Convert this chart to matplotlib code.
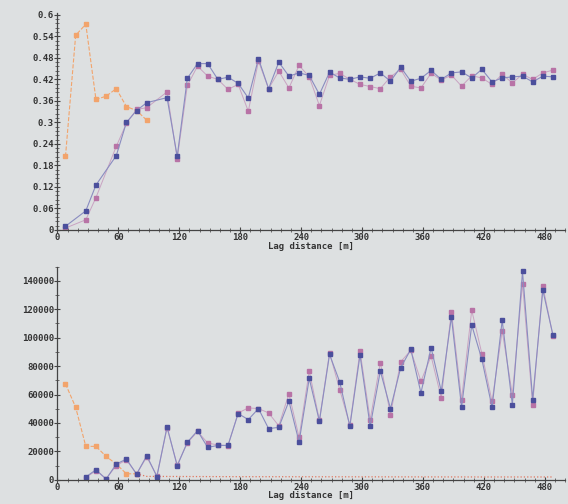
# variograms vs lag distance (two panels)

import matplotlib
matplotlib.use('Agg')
import matplotlib.pyplot as plt
from matplotlib.ticker import MultipleLocator

# top panel
top_lag = [8, 28, 38, 58, 68, 78, 88, 108, 118, 128, 138, 148, 158, 168, 178, 188,
           198, 208, 218, 228, 238, 248, 258, 268, 278, 288, 298, 308, 318, 328, 338,
           348, 358, 368, 378, 388, 398, 408, 418, 428, 438, 448, 458, 468, 478, 488]
top_blue = [0.01, 0.053, 0.125, 0.207, 0.300, 0.333, 0.355, 0.369, 0.205, 0.423, 0.464,
            0.464, 0.420, 0.426, 0.409, 0.368, 0.478, 0.394, 0.468, 0.429, 0.438, 0.431,
            0.378, 0.440, 0.424, 0.420, 0.427, 0.423, 0.438, 0.415, 0.454, 0.415, 0.423,
            0.445, 0.420, 0.438, 0.441, 0.424, 0.448, 0.413, 0.424, 0.427, 0.429, 0.413,
            0.429, 0.427]
top_pink = [0.005, 0.028, 0.090, 0.233, 0.297, 0.336, 0.341, 0.385, 0.198, 0.403, 0.457,
            0.429, 0.420, 0.392, 0.406, 0.331, 0.471, 0.394, 0.443, 0.396, 0.459, 0.427,
            0.347, 0.431, 0.437, 0.420, 0.406, 0.400, 0.394, 0.427, 0.448, 0.401, 0.396,
            0.437, 0.418, 0.432, 0.401, 0.430, 0.424, 0.406, 0.434, 0.410, 0.434, 0.420,
            0.438, 0.446]
top_orange_lag = [8, 18, 28, 38, 48, 58, 68, 78, 88]
top_orange = [0.205, 0.543, 0.574, 0.364, 0.373, 0.394, 0.344, 0.333, 0.306]

# bottom panel
bot_lag = [28, 38, 48, 58, 68, 78, 88, 98, 108, 118, 128, 138, 148, 158, 168, 178, 188,
           198, 208, 218, 228, 238, 248, 258, 268, 278, 288, 298, 308, 318, 328, 338,
           348, 358, 368, 378, 388, 398, 408, 418, 428, 438, 448, 458, 468, 478, 488]
bot_blue = [2000, 7070, 500, 11100, 14600, 4000, 17000, 2300, 37300, 9800, 26500, 34500,
            22800, 24200, 24200, 46600, 42350, 50100, 36000, 36900, 55300, 26600, 71300,
            41200, 88200, 68900, 37650, 87800, 37650, 76500, 50100, 78800, 91800, 61200,
            92900, 62350, 114600, 51060, 108900, 84700, 51060, 112200, 52900, 146600,
            56500, 133400, 101900]
bot_pink = [1500, 6500, 800, 10000, 14000, 4200, 16000, 2800, 36500, 10500, 26000, 34000,
            25900, 24500, 24000, 47000, 50600, 50100, 47060, 38000, 60500, 29900, 76500,
            42000, 89400, 63500, 38500, 90600, 42350, 82350, 45900, 83000, 91000, 69400,
            87000, 57650, 118400, 56500, 119300, 88700, 55300, 104700, 60000, 138100,
            52900, 136500, 101000]
bot_orange_lag = [8, 18, 28, 38, 48, 58, 68, 78]
bot_orange = [67500, 51060, 23530, 23530, 16470, 11060, 4235, 4235]
# orange trace continues just above the axis
tail_lag = [78, 88, 180, 300, 420, 488]
tail_val = [4235, 2400, 2200, 2100, 2000, 2000]

bg = '#dde0e1'
blue = '#4b4f9c'
pink = '#b873a6'
orange = '#f2a46c'
font = dict(family='DejaVu Sans Mono', fontweight='bold', fontsize=6.5, color='#333333')

fig = plt.figure(figsize=(5.68, 5.04), dpi=100, facecolor=bg)
ax1 = fig.add_axes([0.101, 0.544, 0.894, 0.43], facecolor=bg)
ax2 = fig.add_axes([0.101, 0.048, 0.894, 0.423], facecolor=bg)

ax1.plot(top_orange_lag, top_orange, '--', color=orange, lw=0.8, marker='s', ms=3,
         mfc=orange, mec=orange)
ax1.plot(top_lag, top_pink, '-', color='#c9a3c2', lw=0.7, marker='s', ms=2.8,
         mfc=pink, mec=pink)
ax1.plot(top_lag, top_blue, '-', color='#8a8cc0', lw=0.8, marker='s', ms=3,
         mfc=blue, mec=blue)

ax2.plot(tail_lag, tail_val, ':', color='#e07860', lw=0.9)
ax2.plot(bot_orange_lag, bot_orange, '--', color=orange, lw=0.8, marker='s', ms=3,
         mfc=orange, mec=orange)
ax2.plot(bot_lag, bot_pink, '-', color='#c9a3c2', lw=0.7, marker='s', ms=2.8,
         mfc=pink, mec=pink)
ax2.plot(bot_lag, bot_blue, '-', color='#8a8cc0', lw=0.8, marker='s', ms=3,
         mfc=blue, mec=blue)

ax1.set_ylim(0, 0.605)
ax1.yaxis.set_major_locator(MultipleLocator(0.06))
ax1.yaxis.set_minor_locator(MultipleLocator(0.012))
ax1.set_yticklabels([('%g' % v) for v in ax1.get_yticks()])
ax2.set_ylim(0, 150000)
ax2.yaxis.set_major_locator(MultipleLocator(20000))
ax2.yaxis.set_minor_locator(MultipleLocator(10000))

for ax, ly in ((ax1, -0.058), (ax2, -0.052)):
    ax.set_xlim(0, 500)
    ax.xaxis.set_major_locator(MultipleLocator(60))
    ax.xaxis.set_minor_locator(MultipleLocator(10))
    for s in ('top', 'right'):
        ax.spines[s].set_visible(False)
    for s in ('left', 'bottom'):
        ax.spines[s].set_color('#444444')
        ax.spines[s].set_linewidth(0.9)
    ax.tick_params(which='major', direction='inout', length=4, width=0.8,
                   colors='#444444', pad=0.5)
    ax.tick_params(which='minor', direction='inout', length=2.5, width=0.6,
                   colors='#555555')
    for lab in ax.get_xticklabels() + ax.get_yticklabels():
        lab.set_fontfamily(font['family'])
        lab.set_fontweight('bold')
        lab.set_fontsize(font['fontsize'])
        lab.set_color(font['color'])
    ax.set_xlabel('Lag distance [m]', labelpad=0, **font)
    ax.xaxis.set_label_coords(0.5, ly)

fig.savefig('out.png', dpi=100, facecolor=bg)
